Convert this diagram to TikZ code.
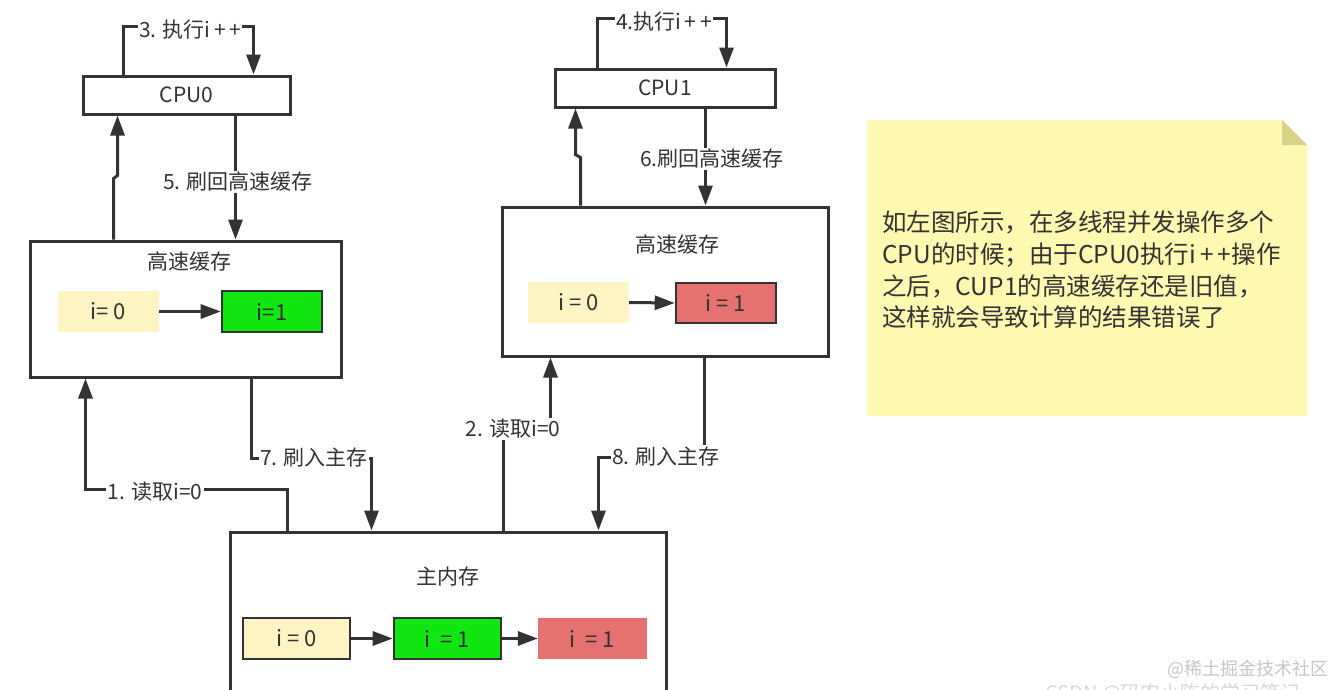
\documentclass[tikz,border=0pt]{standalone}
\usepackage{fontspec}
\setmainfont{Noto Sans CJK SC}
\usetikzlibrary{arrows.meta}
\definecolor{ink}{HTML}{333333}
\definecolor{pale}{HTML}{FFF5C4}
\definecolor{lime}{HTML}{11E611}
\definecolor{rose}{HTML}{E57171}
\definecolor{notey}{HTML}{FFF9B1}
\definecolor{fold}{HTML}{D9D389}
\newcommand{\lbfont}{\fontsize{21}{25}\selectfont}
\newcommand{\valfont}{\fontsize{22}{26}\selectfont}
\newcommand{\notefont}{\fontsize{24.5}{30}\selectfont}
\tikzset{
  ln/.style={draw=ink, line width=3pt},
  arr/.style={ln, -{Triangle[length=20pt,width=14pt]}},
  box/.style={draw=ink, line width=3pt, fill=white, inner sep=0pt, text=ink, font=\lbfont},
  val/.style={inner sep=0pt, text=ink, font=\valfont, minimum height=41pt},
  lbl/.style={fill=white, inner sep=1.5pt, text=ink, font=\lbfont},
  title/.style={inner sep=0pt, text=ink, font=\lbfont},
  noteline/.style={anchor=base west, inner sep=0pt, text=ink, font=\notefont},
  wm/.style={inner sep=0pt, text=black!22, anchor=base west},
}
\begin{document}
\begin{tikzpicture}[x=1pt,y=-1pt]
\useasboundingbox (0,0) rectangle (1333,689);
\clip (0,0) rectangle (1333,689);
\fill[white] (0,0) rectangle (1333,689);

% ---------- CPU0 side ----------
\node[box, minimum width=207pt, minimum height=38pt] (cpu0) at (186.5,95) {CPU0};
\node[box, minimum width=311pt, minimum height=136pt] (cache0) at (185.5,309) {};
\node[title] (t0) at (189,262) {高速缓存};
\node[val, fill=pale, minimum width=101pt] (c0a) at (108.5,311.5) {i= 0};
\node[val, fill=lime, draw=ink, line width=2.6pt, minimum width=100pt] (c0b) at (272,311.5) {i=1};
\draw[arr] (c0a.east) -- (c0b.west);

% ---------- CPU1 side ----------
\node[box, minimum width=220pt, minimum height=38pt] (cpu1) at (665,88) {CPU1};
\node[box, minimum width=326pt, minimum height=149pt] (cache1) at (665,281.5) {};
\node[title] (t1) at (677,245) {高速缓存};
\node[val, fill=pale, minimum width=101pt] (c1a) at (578.5,302.5) {i = 0};
\node[val, fill=rose, draw=ink, line width=2.6pt, minimum width=100pt, minimum height=40pt] (c1b) at (726,303) {i = 1};
\draw[arr] (c1a.east) -- (c1b.west);

% ---------- main memory ----------
\node[box, minimum width=436pt, minimum height=190pt] (mem) at (448,627) {};
\node[title] (tm) at (448,577) {主内存};
\node[val, fill=pale, draw=ink, line width=2.6pt, minimum width=107pt] (m1) at (296.5,638.5) {i = 0};
\node[val, fill=lime, draw=ink, line width=2.6pt, minimum width=107pt] (m2) at (447.5,638.5) {i \ = 1};
\node[val, fill=rose, minimum width=109pt] (m3) at (592.5,638.5) {i \ = 1};
\draw[arr] (m1.east) -- (m2.west);
\draw[arr] (m2.east) -- (m3.west);

% ---------- connectors CPU0 ----------
\draw[arr] ([xshift=42pt]cpu0.north west) -- ++(0,-48) -| ([xshift=172pt]cpu0.north west);
\draw[arr] ([xshift=85pt]cache0.north west) -- ++(0,-61) -- ++(4,-3) -- ([xshift=36pt]cpu0.south west);
\draw[arr] ([xshift=154pt]cpu0.south west) -- ([xshift=207pt]cache0.north west);
\draw[arr] ([xshift=59pt]mem.north west) -- ++(0,-41) -| ([xshift=57pt]cache0.south west);
\draw[arr] ([xshift=223pt]cache0.south west) -- ++(0,80) -| ([xshift=143pt]mem.north west);

% ---------- connectors CPU1 ----------
\draw[arr] ([xshift=44pt]cpu1.north west) -- ++(0,-49) -| ([xshift=173pt]cpu1.north west);
\draw[arr] ([xshift=80pt]cache1.north west) -- ++(0,-48) -- ++(-5,-3) -- ([xshift=22pt]cpu1.south west);
\draw[arr] ([xshift=152pt]cpu1.south west) -- ([xshift=205pt]cache1.north west);
\draw[arr] ([xshift=275pt]mem.north west) -- ++(0,-102) -| ([xshift=50pt]cache1.south west);
\draw[arr] ([xshift=204pt]cache1.south west) -- ++(0,100) -| ([xshift=370pt]mem.north west);

% ---------- labels ----------
\node[lbl] (l3) at (190,30) {3. 执行i\,+\,+};
\node[lbl] (l5) at (238,182) {5. 刷回高速缓存};
\node[lbl] (l1) at (155,492) {1. 读取i=0};
\node[lbl] (l7) at (314,457) {7. 刷入主存};
\node[lbl] (l4) at (664,22) {4.执行i\,+\,+};
\node[lbl] (l6) at (712,159) {6.刷回高速缓存};
\node[lbl] (l2) at (513,429) {2. 读取i=0};
\node[lbl] (l8) at (666,456) {8. 刷入主存};

% ---------- note ----------
\fill[notey] (867,120) -- (1282,120) -- (1307,145) -- (1307,416) -- (867,416) -- cycle;
\fill[fold] (1282,120) -- (1307,145) -- (1282,145) -- cycle;
\node[noteline] (n1) at (882,231) {如左图所示，在多线程并发操作多个};
\node[noteline] (n2) at (882,263) {CPU的时候；由于CPU0执行i\,+\,+操作};
\node[noteline] (n3) at (882,295) {之后，CUP1的高速缓存还是旧值，};
\node[noteline] (n4) at (882,326) {这样就会导致计算的结果错误了};

% ---------- watermarks ----------
\node[wm, font=\fontsize{18}{20}\selectfont] (w1) at (1167,675) {@稀土掘金技术社区};
\node[wm, font=\fontsize{20}{22}\selectfont, text=black!15] (w2) at (1045,700) {CSDN @码农小陈的学习笔记};
\end{tikzpicture}
\end{document}
